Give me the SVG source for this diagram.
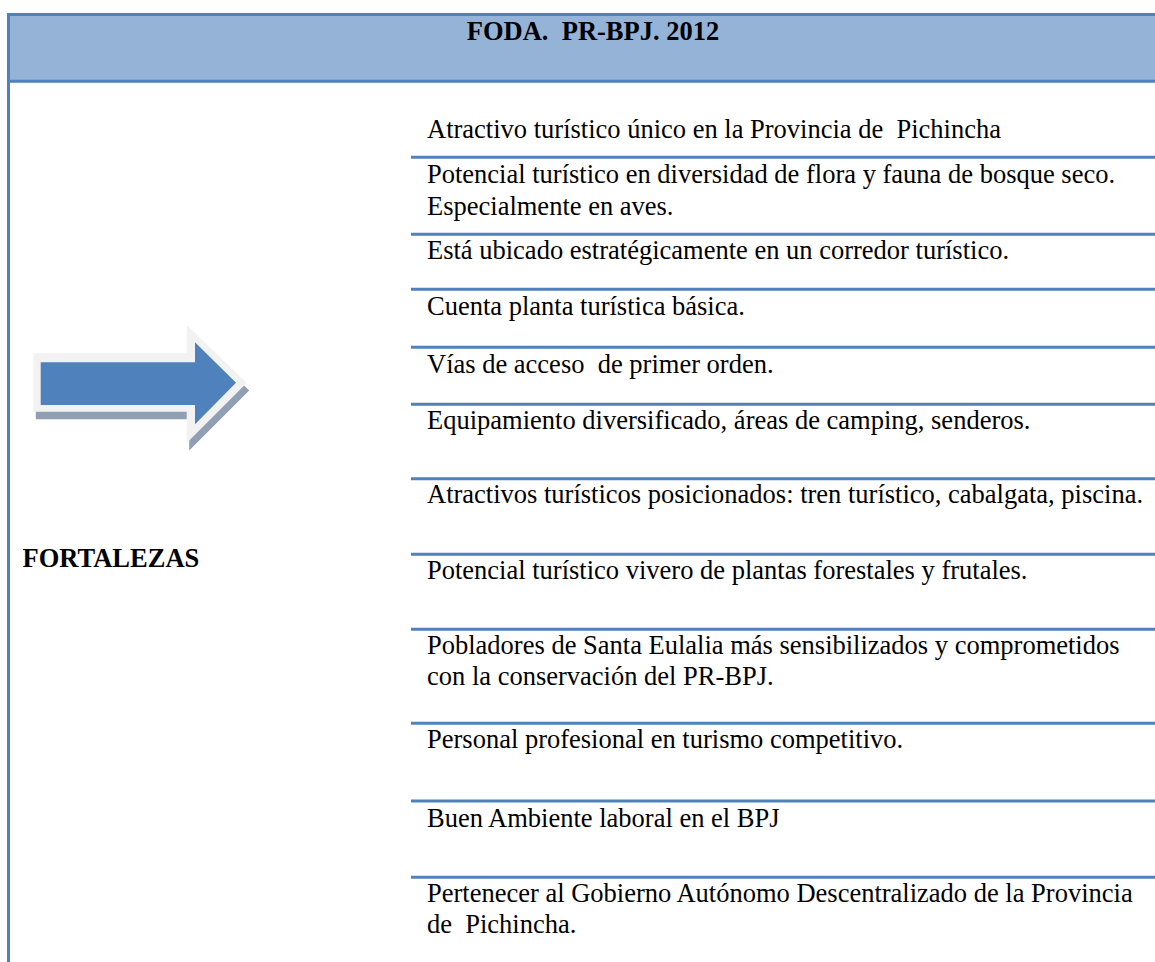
<svg xmlns="http://www.w3.org/2000/svg" width="1155" height="962" viewBox="0 0 1155 962">
<style>
.t{font-family:"Liberation Serif","Times New Roman",serif;font-size:26.5px;fill:#000;white-space:pre}
.b{font-weight:bold}
.sep{stroke:#4f81bd;stroke-width:3;fill:none}
.frame{stroke:#4f81bd;stroke-width:3;fill:none}
</style>
<rect width="1155" height="962" fill="#ffffff"/>
<g id="header">
<rect x="8.5" y="14.5" width="1150" height="66.8" fill="#95b3d7"/>
<line class="frame" x1="7" y1="14.5" x2="1155" y2="14.5"/>
<line class="frame" x1="8.5" y1="81.3" x2="1155" y2="81.3"/>
<text class="t b" x="593" y="40" text-anchor="middle" xml:space="preserve">FODA.  PR-BPJ. 2012</text>
</g>
<g id="frame-left">
<line class="frame" x1="8.5" y1="13" x2="8.5" y2="962"/>
</g>
<g id="arrow">
<polygon points="35.8,360.8 189.2,360.8 189.2,332.5 249.2,390.5 189.2,450.5 189.2,419.2 35.8,419.2" fill="#909fb1"/>
<polygon points="33.3,353.3 186.7,353.3 186.7,325 246.7,383 186.7,443 186.7,411.7 33.3,411.7" fill="#f2f2f2"/>
<polygon points="40.7,362.3 195,362.3 195,342.3 236,382.7 195,424.3 195,405 40.7,405" fill="#4f81bd"/>
</g>
<g id="fortalezas">
<text class="t b" x="22.5" y="566.7">FORTALEZAS</text>
</g>
<g id="connectors">
<line class="sep" x1="411" y1="157.3" x2="1155" y2="157.3"/>
<line class="sep" x1="411" y1="234.3" x2="1155" y2="234.3"/>
<line class="sep" x1="411" y1="289.3" x2="1155" y2="289.3"/>
<line class="sep" x1="411" y1="347.3" x2="1155" y2="347.3"/>
<line class="sep" x1="411" y1="404.3" x2="1155" y2="404.3"/>
<line class="sep" x1="411" y1="478.7" x2="1155" y2="478.7"/>
<line class="sep" x1="411" y1="554.3" x2="1155" y2="554.3"/>
<line class="sep" x1="411" y1="629.3" x2="1155" y2="629.3"/>
<line class="sep" x1="411" y1="723.3" x2="1155" y2="723.3"/>
<line class="sep" x1="411" y1="801" x2="1155" y2="801"/>
<line class="sep" x1="411" y1="877.3" x2="1155" y2="877.3"/>
</g>
<g id="item1"><text class="t" x="427" y="138.3" xml:space="preserve">Atractivo turístico único en la Provincia de  Pichincha</text></g>
<g id="item2"><text class="t" x="427" y="183.3">Potencial turístico en diversidad de flora y fauna de bosque seco.</text><text class="t" x="427" y="215">Especialmente en aves.</text></g>
<g id="item3"><text class="t" x="427" y="259.3">Está ubicado estratégicamente en un corredor turístico.</text></g>
<g id="item4"><text class="t" x="427" y="315">Cuenta planta turística básica.</text></g>
<g id="item5"><text class="t" x="427" y="372.7" xml:space="preserve">Vías de acceso  de primer orden.</text></g>
<g id="item6"><text class="t" x="427" y="429.3">Equipamiento diversificado, áreas de camping, senderos.</text></g>
<g id="item7"><text class="t" x="427" y="503.3">Atractivos turísticos posicionados: tren turístico, cabalgata, piscina.</text></g>
<g id="item8"><text class="t" x="427" y="579.3">Potencial turístico vivero de plantas forestales y frutales.</text></g>
<g id="item9"><text class="t" x="427" y="654.3">Pobladores de Santa Eulalia más sensibilizados y comprometidos</text><text class="t" x="427" y="685">con la conservación del PR-BPJ.</text></g>
<g id="item10"><text class="t" x="427" y="748.3">Personal profesional en turismo competitivo.</text></g>
<g id="item11"><text class="t" x="427" y="826.7">Buen Ambiente laboral en el BPJ</text></g>
<g id="item12"><text class="t" x="427" y="902" xml:space="preserve">Pertenecer al Gobierno Autónomo Descentralizado de la Provincia</text><text class="t" x="427" y="933" xml:space="preserve">de  Pichincha.</text></g>
</svg>
